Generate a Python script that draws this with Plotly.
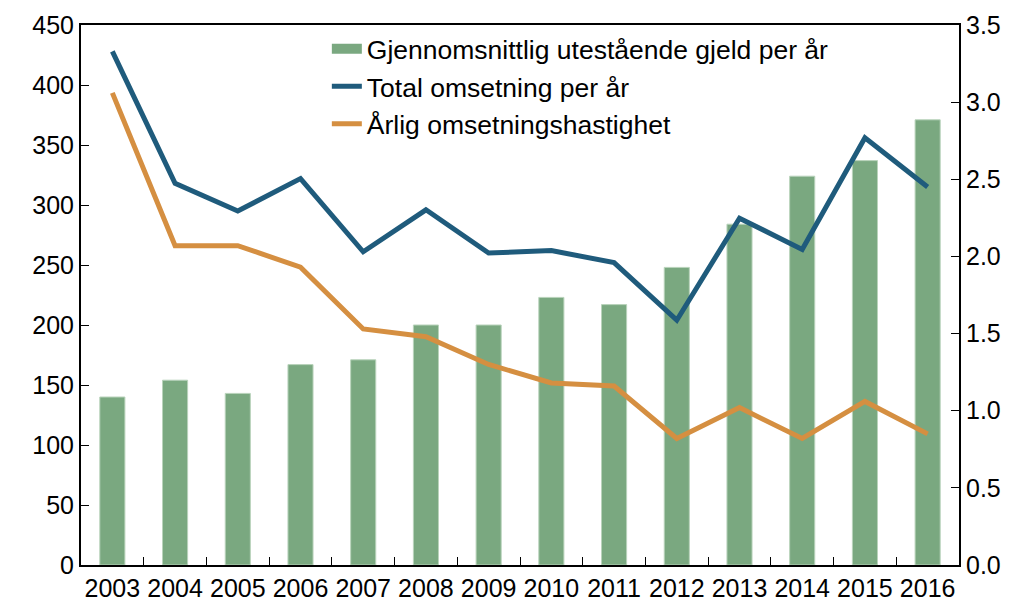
import plotly.graph_objects as go

years = ["2003", "2004", "2005", "2006", "2007", "2008", "2009",
         "2010", "2011", "2012", "2013", "2014", "2015", "2016"]
gjeld = [140, 154, 143, 167, 171, 200, 200, 223, 217, 248, 284, 324, 337, 371]
omsetning = [428, 318, 295, 322, 261, 296, 260, 262, 252, 204, 289, 263, 356, 315]
hastighet = [3.06, 2.07, 2.07, 1.93, 1.53, 1.48, 1.30, 1.18, 1.16, 0.82, 1.02, 0.82, 1.06, 0.85]

font = dict(family="Liberation Sans, Arial, sans-serif", size=25, color="black")
green = "#7aa880"

fig = go.Figure()
fig.add_trace(go.Bar(x=years, y=gjeld, name="Gjennomsnittlig utestående gjeld per år",
                     marker=dict(color=green, line=dict(color="#b9d3bb", width=1)),
                     width=0.4, showlegend=False, legendgroup="g"))
# legend proxy for the bar series (wide patch like the original)
fig.add_trace(go.Scatter(x=[None], y=[None], name="Gjennomsnittlig utestående gjeld per år",
                         mode="lines", line=dict(color=green, width=13), legendgroup="g"))
fig.add_trace(go.Scatter(x=years, y=omsetning, name="Total omsetning per år", mode="lines",
                         line=dict(color="#1f5b7c", width=5)))
fig.add_trace(go.Scatter(x=years, y=hastighet, name="Årlig omsetningshastighet", mode="lines",
                         line=dict(color="#d58f41", width=5), yaxis="y2"))

fig.update_layout(
    width=1013, height=598,
    margin=dict(l=73, r=62, t=17, b=41),
    paper_bgcolor="white", plot_bgcolor="white",
    font=font,
    showlegend=True,
    legend=dict(x=0.28, y=1.0, xanchor="left", yanchor="top", bgcolor="rgba(0,0,0,0)",
                font=dict(size=26.5), tracegroupgap=0),
    xaxis=dict(type="category", range=[-0.5, 13.5], showline=True, linecolor="black", linewidth=2,
               mirror=True, ticks="inside", tickson="boundaries", ticklen=8, tickcolor="black",
               showgrid=False, tickfont=font, tickangle=0, automargin=False),
    yaxis=dict(range=[0, 450], dtick=50, showline=True, linecolor="black", linewidth=2,
               ticks="inside", ticklen=8, tickcolor="black", showgrid=False, zeroline=False,
               tickfont=font, automargin=False),
    yaxis2=dict(range=[0, 3.5], dtick=0.5, tickformat=".1f", overlaying="y", side="right",
                showline=True, linecolor="black", linewidth=2, ticks="inside", ticklen=8,
                tickcolor="black", showgrid=False, zeroline=False, tickfont=font,
                automargin=False),
)

fig.write_html("out.html")
